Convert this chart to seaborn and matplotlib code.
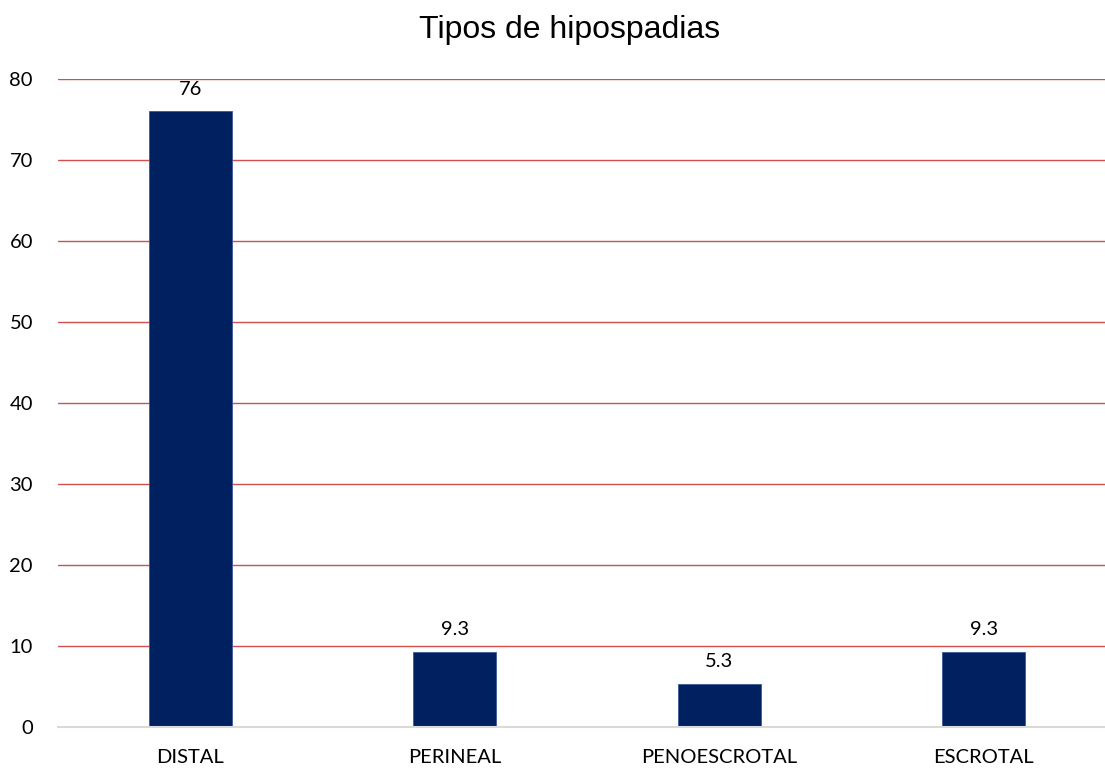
import matplotlib
matplotlib.use("Agg")
import matplotlib.pyplot as plt
import seaborn as sns
import pandas as pd

categories = ["DISTAL", "PERINEAL", "PENOESCROTAL", "ESCROTAL"]
values = [76, 9.3, 5.3, 9.3]
value_labels = ["76", "9.3", "5.3", "9.3"]
yticks = [0, 10, 20, 30, 40, 50, 60, 70, 80]

sns.set_style("white")
plt.rcParams["font.family"] = ["Lato", "DejaVu Sans"]

df = pd.DataFrame({"cat": categories, "val": values})

fig = plt.figure(figsize=(11.05, 7.7), dpi=100)
ax = fig.add_axes([58 / 1105, 1 - 727 / 770, 1 - 58 / 1105, (727 - 79) / 770])

sns.barplot(data=df, x="cat", y="val", color="#002060", width=0.314,
            saturation=1, ax=ax, zorder=3, edgecolor="#3a5a9a", linewidth=0.6)

ax.set_ylim(0, 80)
ax.set_xlim(-0.5, 3.458)
ax.set_yticks(yticks)
ax.yaxis.grid(True, color="#d05050", linewidth=1.0, zorder=0)
ax.xaxis.grid(False)
for s in ["top", "right", "left"]:
    ax.spines[s].set_visible(False)
ax.spines["bottom"].set_color("#d9d9d9")
ax.spines["bottom"].set_linewidth(1.5)
ax.spines["bottom"].set_zorder(4)
ax.tick_params(axis="both", length=0, labelsize=14.5, colors="black")
ax.tick_params(axis="y", pad=18)
ax.tick_params(axis="x", pad=16)
ax.set_xlabel("")
ax.set_ylabel("")

for i, (v, lab) in enumerate(zip(values, value_labels)):
    ax.annotate(lab, (i, v), xytext=(0, 10), textcoords="offset points",
                ha="center", va="bottom", fontsize=14.5, color="black")

fig.text(0.515, 1 - 30 / 770, "Tipos de hipospadias", ha="center", va="center",
         fontsize=23, color="black", family=["Liberation Sans", "DejaVu Sans"])

fig.savefig("out.png", dpi=100)
